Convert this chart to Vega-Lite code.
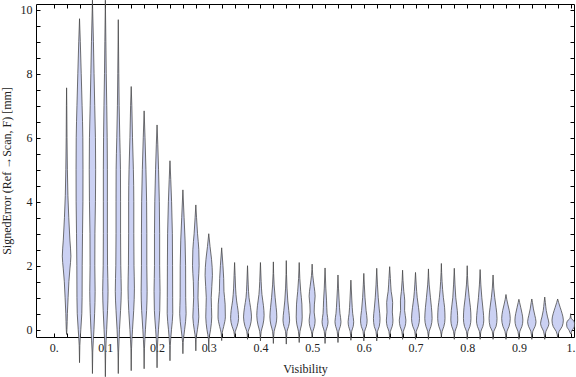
{
"$schema": "https://vega.github.io/schema/vega-lite/v6.json",
"width": 538, "height": 333,
"autosize": "none",
"padding": {"left": 36, "top": 4, "right": 2, "bottom": 40},
"background": "white",
"config": {"view": {"stroke": "#000", "strokeWidth": 1}, "font": "Liberation Serif",
  "axis": {"labelFont": "Liberation Serif", "titleFont": "Liberation Serif", "labelFontSize": 12, "titleFontSize": 12, "labelColor": "#222", "titleColor": "#222", "titleFontWeight": "normal", "domain": false, "grid": false, "tickColor": "#000", "labelOverlap": false, "labelFlush": false}},
"datasets": {"vio": [
{"v":0.025,"e":-0.15,"lo":0.025,"hi":0.025},{"v":0.025,"e":0,"lo":0.0244,"hi":0.0256},{"v":0.025,"e":0.5,"lo":0.0235,"hi":0.0265},{"v":0.025,"e":1,"lo":0.0221,"hi":0.0279},{"v":0.025,"e":1.5,"lo":0.0206,"hi":0.0294},{"v":0.025,"e":1.9,"lo":0.0186,"hi":0.0314},{"v":0.025,"e":2.3,"lo":0.0167,"hi":0.0333},{"v":0.025,"e":2.8,"lo":0.0186,"hi":0.0314},{"v":0.025,"e":3.5,"lo":0.0208,"hi":0.0292},{"v":0.025,"e":4.2,"lo":0.0225,"hi":0.0275},{"v":0.025,"e":5,"lo":0.0235,"hi":0.0265},{"v":0.025,"e":6,"lo":0.0242,"hi":0.0258},{"v":0.025,"e":7,"lo":0.0246,"hi":0.0254},{"v":0.025,"e":7.56,"lo":0.025,"hi":0.025},
{"v":0.05,"e":-1.03,"lo":0.05,"hi":0.05},{"v":0.05,"e":-0.5,"lo":0.0494,"hi":0.0506},{"v":0.05,"e":0,"lo":0.0475,"hi":0.0525},{"v":0.05,"e":0.5,"lo":0.0456,"hi":0.0544},{"v":0.05,"e":1,"lo":0.045,"hi":0.055},{"v":0.05,"e":2,"lo":0.0448,"hi":0.0552},{"v":0.05,"e":3,"lo":0.0442,"hi":0.0558},{"v":0.05,"e":4,"lo":0.0434,"hi":0.0566},{"v":0.05,"e":5,"lo":0.0433,"hi":0.0567},{"v":0.05,"e":6,"lo":0.0436,"hi":0.0564},{"v":0.05,"e":7,"lo":0.045,"hi":0.055},{"v":0.05,"e":8,"lo":0.0467,"hi":0.0533},{"v":0.05,"e":9,"lo":0.0485,"hi":0.0515},{"v":0.05,"e":9.72,"lo":0.05,"hi":0.05},
{"v":0.075,"e":-1.37,"lo":0.075,"hi":0.075},{"v":0.075,"e":-0.7,"lo":0.0744,"hi":0.0756},{"v":0.075,"e":0,"lo":0.0721,"hi":0.0779},{"v":0.075,"e":0.5,"lo":0.0708,"hi":0.0792},{"v":0.075,"e":1.2,"lo":0.0698,"hi":0.0802},{"v":0.075,"e":2,"lo":0.0704,"hi":0.0796},{"v":0.075,"e":3,"lo":0.0702,"hi":0.0798},{"v":0.075,"e":4,"lo":0.0692,"hi":0.0808},{"v":0.075,"e":5,"lo":0.0688,"hi":0.0812},{"v":0.075,"e":6,"lo":0.0692,"hi":0.0808},{"v":0.075,"e":7,"lo":0.0706,"hi":0.0794},{"v":0.075,"e":8,"lo":0.0719,"hi":0.0781},{"v":0.075,"e":9,"lo":0.0731,"hi":0.0769},{"v":0.075,"e":10.3,"lo":0.075,"hi":0.075},
{"v":0.1,"e":-1.47,"lo":0.1,"hi":0.1},{"v":0.1,"e":-0.7,"lo":0.0994,"hi":0.1006},{"v":0.1,"e":0,"lo":0.0975,"hi":0.1025},{"v":0.1,"e":0.6,"lo":0.0958,"hi":0.1042},{"v":0.1,"e":1.2,"lo":0.0948,"hi":0.1052},{"v":0.1,"e":2,"lo":0.0958,"hi":0.1042},{"v":0.1,"e":3,"lo":0.0961,"hi":0.1039},{"v":0.1,"e":4,"lo":0.0961,"hi":0.1039},{"v":0.1,"e":5,"lo":0.0961,"hi":0.1039},{"v":0.1,"e":6,"lo":0.0965,"hi":0.1035},{"v":0.1,"e":7,"lo":0.0973,"hi":0.1027},{"v":0.1,"e":8,"lo":0.0983,"hi":0.1017},{"v":0.1,"e":9,"lo":0.099,"hi":0.101},{"v":0.1,"e":10.3,"lo":0.1,"hi":0.1},
{"v":0.125,"e":-1.37,"lo":0.125,"hi":0.125},{"v":0.125,"e":-0.7,"lo":0.1244,"hi":0.1256},{"v":0.125,"e":0,"lo":0.1227,"hi":0.1273},{"v":0.125,"e":0.6,"lo":0.1206,"hi":0.1294},{"v":0.125,"e":1.2,"lo":0.1192,"hi":0.1308},{"v":0.125,"e":2,"lo":0.1202,"hi":0.1298},{"v":0.125,"e":3,"lo":0.1206,"hi":0.1294},{"v":0.125,"e":4,"lo":0.1206,"hi":0.1294},{"v":0.125,"e":5,"lo":0.1208,"hi":0.1292},{"v":0.125,"e":6,"lo":0.1221,"hi":0.1279},{"v":0.125,"e":7,"lo":0.1233,"hi":0.1267},{"v":0.125,"e":8,"lo":0.124,"hi":0.126},{"v":0.125,"e":9.69,"lo":0.125,"hi":0.125},
{"v":0.15,"e":-1.28,"lo":0.15,"hi":0.15},{"v":0.15,"e":-0.6,"lo":0.1494,"hi":0.1506},{"v":0.15,"e":0,"lo":0.1475,"hi":0.1525},{"v":0.15,"e":0.6,"lo":0.1452,"hi":0.1548},{"v":0.15,"e":1.3,"lo":0.1438,"hi":0.1562},{"v":0.15,"e":2,"lo":0.1446,"hi":0.1554},{"v":0.15,"e":3,"lo":0.145,"hi":0.155},{"v":0.15,"e":4,"lo":0.145,"hi":0.155},{"v":0.15,"e":5,"lo":0.1458,"hi":0.1542},{"v":0.15,"e":6,"lo":0.1475,"hi":0.1525},{"v":0.15,"e":7,"lo":0.1488,"hi":0.1512},{"v":0.15,"e":7.6,"lo":0.15,"hi":0.15},
{"v":0.175,"e":-1.22,"lo":0.175,"hi":0.175},{"v":0.175,"e":-0.6,"lo":0.1744,"hi":0.1756},{"v":0.175,"e":0,"lo":0.1725,"hi":0.1775},{"v":0.175,"e":0.6,"lo":0.1702,"hi":0.1798},{"v":0.175,"e":1.2,"lo":0.1692,"hi":0.1808},{"v":0.175,"e":2,"lo":0.1698,"hi":0.1802},{"v":0.175,"e":3,"lo":0.1698,"hi":0.1802},{"v":0.175,"e":4,"lo":0.1702,"hi":0.1798},{"v":0.175,"e":5,"lo":0.1715,"hi":0.1785},{"v":0.175,"e":6,"lo":0.1733,"hi":0.1767},{"v":0.175,"e":6.84,"lo":0.175,"hi":0.175},
{"v":0.2,"e":-1.19,"lo":0.2,"hi":0.2},{"v":0.2,"e":-0.6,"lo":0.1994,"hi":0.2006},{"v":0.2,"e":0,"lo":0.1973,"hi":0.2027},{"v":0.2,"e":0.6,"lo":0.1948,"hi":0.2052},{"v":0.2,"e":1.2,"lo":0.1942,"hi":0.2058},{"v":0.2,"e":2,"lo":0.195,"hi":0.205},{"v":0.2,"e":3,"lo":0.195,"hi":0.205},{"v":0.2,"e":4,"lo":0.1956,"hi":0.2044},{"v":0.2,"e":5,"lo":0.1971,"hi":0.2029},{"v":0.2,"e":5.8,"lo":0.1986,"hi":0.2014},{"v":0.2,"e":6.4,"lo":0.2,"hi":0.2},
{"v":0.225,"e":-0.97,"lo":0.225,"hi":0.225},{"v":0.225,"e":-0.5,"lo":0.2244,"hi":0.2256},{"v":0.225,"e":0,"lo":0.2221,"hi":0.2279},{"v":0.225,"e":0.5,"lo":0.2196,"hi":0.2304},{"v":0.225,"e":1,"lo":0.2198,"hi":0.2302},{"v":0.225,"e":2,"lo":0.22,"hi":0.23},{"v":0.225,"e":3,"lo":0.2204,"hi":0.2296},{"v":0.225,"e":4,"lo":0.2219,"hi":0.2281},{"v":0.225,"e":4.7,"lo":0.2235,"hi":0.2265},{"v":0.225,"e":5.28,"lo":0.225,"hi":0.225},
{"v":0.25,"e":-0.75,"lo":0.25,"hi":0.25},{"v":0.25,"e":-0.4,"lo":0.2494,"hi":0.2506},{"v":0.25,"e":0,"lo":0.2467,"hi":0.2533},{"v":0.25,"e":0.5,"lo":0.2438,"hi":0.2562},{"v":0.25,"e":1,"lo":0.2446,"hi":0.2554},{"v":0.25,"e":2,"lo":0.2448,"hi":0.2552},{"v":0.25,"e":2.8,"lo":0.2458,"hi":0.2542},{"v":0.25,"e":3.5,"lo":0.2477,"hi":0.2523},{"v":0.25,"e":4.37,"lo":0.25,"hi":0.25},
{"v":0.275,"e":-0.66,"lo":0.275,"hi":0.275},{"v":0.275,"e":-0.3,"lo":0.2744,"hi":0.2756},{"v":0.275,"e":0,"lo":0.2719,"hi":0.2781},{"v":0.275,"e":0.4,"lo":0.2692,"hi":0.2808},{"v":0.275,"e":1,"lo":0.2708,"hi":0.2792},{"v":0.275,"e":1.5,"lo":0.2702,"hi":0.2798},{"v":0.275,"e":2,"lo":0.2686,"hi":0.2814},{"v":0.275,"e":2.5,"lo":0.2692,"hi":0.2808},{"v":0.275,"e":3,"lo":0.2717,"hi":0.2783},{"v":0.275,"e":3.5,"lo":0.2736,"hi":0.2764},{"v":0.275,"e":3.9,"lo":0.275,"hi":0.275},
{"v":0.3,"e":-0.66,"lo":0.3,"hi":0.3},{"v":0.3,"e":-0.3,"lo":0.2994,"hi":0.3006},{"v":0.3,"e":0,"lo":0.2965,"hi":0.3035},{"v":0.3,"e":0.4,"lo":0.2942,"hi":0.3058},{"v":0.3,"e":1,"lo":0.2952,"hi":0.3048},{"v":0.3,"e":1.7,"lo":0.2929,"hi":0.3071},{"v":0.3,"e":2.2,"lo":0.2946,"hi":0.3054},{"v":0.3,"e":2.6,"lo":0.2975,"hi":0.3025},{"v":0.3,"e":3.0,"lo":0.3,"hi":0.3},
{"v":0.325,"e":-0.34,"lo":0.325,"hi":0.325},{"v":0.325,"e":-0.1,"lo":0.324,"hi":0.326},{"v":0.325,"e":0.1,"lo":0.3211,"hi":0.3289},{"v":0.325,"e":0.4,"lo":0.3179,"hi":0.3321},{"v":0.325,"e":0.8,"lo":0.3183,"hi":0.3317},{"v":0.325,"e":1.2,"lo":0.3206,"hi":0.3294},{"v":0.325,"e":1.6,"lo":0.3211,"hi":0.3289},{"v":0.325,"e":2,"lo":0.3225,"hi":0.3275},{"v":0.325,"e":2.56,"lo":0.325,"hi":0.325},
{"v":0.35,"e":-0.25,"lo":0.35,"hi":0.35},{"v":0.35,"e":-0.05,"lo":0.3485,"hi":0.3515},{"v":0.35,"e":0.1,"lo":0.3452,"hi":0.3548},{"v":0.35,"e":0.35,"lo":0.3423,"hi":0.3577},{"v":0.35,"e":0.6,"lo":0.3433,"hi":0.3567},{"v":0.35,"e":0.9,"lo":0.3461,"hi":0.3539},{"v":0.35,"e":1.3,"lo":0.3481,"hi":0.3519},{"v":0.35,"e":1.7,"lo":0.349,"hi":0.351},{"v":0.35,"e":2.1,"lo":0.35,"hi":0.35},
{"v":0.375,"e":-0.3,"lo":0.375,"hi":0.375},{"v":0.375,"e":-0.05,"lo":0.3735,"hi":0.3765},{"v":0.375,"e":0.1,"lo":0.3702,"hi":0.3798},{"v":0.375,"e":0.4,"lo":0.3673,"hi":0.3827},{"v":0.375,"e":0.7,"lo":0.3692,"hi":0.3808},{"v":0.375,"e":1,"lo":0.3721,"hi":0.3779},{"v":0.375,"e":1.4,"lo":0.3736,"hi":0.3764},{"v":0.375,"e":2.0,"lo":0.375,"hi":0.375},
{"v":0.4,"e":-0.35,"lo":0.4,"hi":0.4},{"v":0.4,"e":-0.05,"lo":0.3985,"hi":0.4015},{"v":0.4,"e":0.15,"lo":0.3952,"hi":0.4048},{"v":0.4,"e":0.45,"lo":0.3929,"hi":0.4071},{"v":0.4,"e":0.75,"lo":0.3942,"hi":0.4058},{"v":0.4,"e":1.1,"lo":0.3971,"hi":0.4029},{"v":0.4,"e":1.5,"lo":0.3986,"hi":0.4014},{"v":0.4,"e":2.1,"lo":0.4,"hi":0.4},
{"v":0.425,"e":-0.43,"lo":0.425,"hi":0.425},{"v":0.425,"e":-0.05,"lo":0.4235,"hi":0.4265},{"v":0.425,"e":0.15,"lo":0.4202,"hi":0.4298},{"v":0.425,"e":0.4,"lo":0.4183,"hi":0.4317},{"v":0.425,"e":0.7,"lo":0.4196,"hi":0.4304},{"v":0.425,"e":1,"lo":0.4215,"hi":0.4285},{"v":0.425,"e":1.4,"lo":0.4235,"hi":0.4265},{"v":0.425,"e":2.12,"lo":0.425,"hi":0.425},
{"v":0.45,"e":-0.45,"lo":0.45,"hi":0.45},{"v":0.45,"e":-0.05,"lo":0.4485,"hi":0.4515},{"v":0.45,"e":0.1,"lo":0.4456,"hi":0.4544},{"v":0.45,"e":0.3,"lo":0.4436,"hi":0.4564},{"v":0.45,"e":0.6,"lo":0.4452,"hi":0.4548},{"v":0.45,"e":0.9,"lo":0.4471,"hi":0.4529},{"v":0.45,"e":1.3,"lo":0.4486,"hi":0.4514},{"v":0.45,"e":2.16,"lo":0.45,"hi":0.45},
{"v":0.475,"e":-0.4,"lo":0.475,"hi":0.475},{"v":0.475,"e":-0.05,"lo":0.4735,"hi":0.4765},{"v":0.475,"e":0.15,"lo":0.4706,"hi":0.4794},{"v":0.475,"e":0.4,"lo":0.4692,"hi":0.4808},{"v":0.475,"e":0.8,"lo":0.4698,"hi":0.4802},{"v":0.475,"e":1.2,"lo":0.4721,"hi":0.4779},{"v":0.475,"e":1.6,"lo":0.4738,"hi":0.4762},{"v":0.475,"e":2.1,"lo":0.475,"hi":0.475},
{"v":0.5,"e":-0.25,"lo":0.5,"hi":0.5},{"v":0.5,"e":-0.05,"lo":0.4985,"hi":0.5015},{"v":0.5,"e":0.1,"lo":0.4956,"hi":0.5044},{"v":0.5,"e":0.3,"lo":0.4942,"hi":0.5058},{"v":0.5,"e":0.55,"lo":0.4961,"hi":0.5039},{"v":0.5,"e":0.8,"lo":0.4956,"hi":0.5044},{"v":0.5,"e":1.05,"lo":0.4942,"hi":0.5058},{"v":0.5,"e":1.35,"lo":0.4961,"hi":0.5039},{"v":0.5,"e":1.7,"lo":0.4988,"hi":0.5012},{"v":0.5,"e":2.05,"lo":0.5,"hi":0.5},
{"v":0.525,"e":-0.43,"lo":0.525,"hi":0.525},{"v":0.525,"e":-0.05,"lo":0.5235,"hi":0.5265},{"v":0.525,"e":0.1,"lo":0.5206,"hi":0.5294},{"v":0.525,"e":0.25,"lo":0.5192,"hi":0.5308},{"v":0.525,"e":0.5,"lo":0.5211,"hi":0.5289},{"v":0.525,"e":0.9,"lo":0.5221,"hi":0.5279},{"v":0.525,"e":1.3,"lo":0.5235,"hi":0.5265},{"v":0.525,"e":1.93,"lo":0.525,"hi":0.525},
{"v":0.55,"e":-0.4,"lo":0.55,"hi":0.55},{"v":0.55,"e":-0.05,"lo":0.5485,"hi":0.5515},{"v":0.55,"e":0.1,"lo":0.5456,"hi":0.5544},{"v":0.55,"e":0.25,"lo":0.5442,"hi":0.5558},{"v":0.55,"e":0.5,"lo":0.5461,"hi":0.5539},{"v":0.55,"e":0.9,"lo":0.5477,"hi":0.5523},{"v":0.55,"e":1.3,"lo":0.549,"hi":0.551},{"v":0.55,"e":1.71,"lo":0.55,"hi":0.55},
{"v":0.575,"e":-0.33,"lo":0.575,"hi":0.575},{"v":0.575,"e":-0.05,"lo":0.5735,"hi":0.5765},{"v":0.575,"e":0.1,"lo":0.5706,"hi":0.5794},{"v":0.575,"e":0.25,"lo":0.5696,"hi":0.5804},{"v":0.575,"e":0.5,"lo":0.5715,"hi":0.5785},{"v":0.575,"e":0.9,"lo":0.5731,"hi":0.5769},{"v":0.575,"e":1.55,"lo":0.575,"hi":0.575},
{"v":0.6,"e":-0.35,"lo":0.6,"hi":0.6},{"v":0.6,"e":-0.05,"lo":0.5985,"hi":0.6015},{"v":0.6,"e":0.1,"lo":0.5952,"hi":0.6048},{"v":0.6,"e":0.3,"lo":0.5936,"hi":0.6064},{"v":0.6,"e":0.6,"lo":0.5956,"hi":0.6044},{"v":0.6,"e":1.0,"lo":0.5977,"hi":0.6023},{"v":0.6,"e":1.4,"lo":0.599,"hi":0.601},{"v":0.6,"e":1.76,"lo":0.6,"hi":0.6},
{"v":0.625,"e":-0.35,"lo":0.625,"hi":0.625},{"v":0.625,"e":-0.05,"lo":0.6235,"hi":0.6265},{"v":0.625,"e":0.1,"lo":0.6202,"hi":0.6298},{"v":0.625,"e":0.35,"lo":0.6186,"hi":0.6314},{"v":0.625,"e":0.65,"lo":0.6202,"hi":0.6298},{"v":0.625,"e":1.0,"lo":0.6221,"hi":0.6279},{"v":0.625,"e":1.4,"lo":0.6236,"hi":0.6264},{"v":0.625,"e":1.92,"lo":0.625,"hi":0.625},
{"v":0.65,"e":-0.3,"lo":0.65,"hi":0.65},{"v":0.65,"e":-0.05,"lo":0.6485,"hi":0.6515},{"v":0.65,"e":0.1,"lo":0.6452,"hi":0.6548},{"v":0.65,"e":0.3,"lo":0.6436,"hi":0.6564},{"v":0.65,"e":0.55,"lo":0.6448,"hi":0.6552},{"v":0.65,"e":0.85,"lo":0.6442,"hi":0.6558},{"v":0.65,"e":1.2,"lo":0.6471,"hi":0.6529},{"v":0.65,"e":1.6,"lo":0.6486,"hi":0.6514},{"v":0.65,"e":1.97,"lo":0.65,"hi":0.65},
{"v":0.675,"e":-0.3,"lo":0.675,"hi":0.675},{"v":0.675,"e":-0.05,"lo":0.6735,"hi":0.6765},{"v":0.675,"e":0.1,"lo":0.6702,"hi":0.6798},{"v":0.675,"e":0.3,"lo":0.6686,"hi":0.6814},{"v":0.675,"e":0.6,"lo":0.6711,"hi":0.6789},{"v":0.675,"e":0.9,"lo":0.6708,"hi":0.6792},{"v":0.675,"e":1.2,"lo":0.6727,"hi":0.6773},{"v":0.675,"e":1.86,"lo":0.675,"hi":0.675},
{"v":0.7,"e":-0.3,"lo":0.7,"hi":0.7},{"v":0.7,"e":-0.05,"lo":0.6985,"hi":0.7015},{"v":0.7,"e":0.1,"lo":0.6948,"hi":0.7052},{"v":0.7,"e":0.35,"lo":0.6923,"hi":0.7077},{"v":0.7,"e":0.7,"lo":0.6942,"hi":0.7058},{"v":0.7,"e":1.0,"lo":0.6967,"hi":0.7033},{"v":0.7,"e":1.4,"lo":0.6986,"hi":0.7014},{"v":0.7,"e":1.79,"lo":0.7,"hi":0.7},
{"v":0.725,"e":-0.3,"lo":0.725,"hi":0.725},{"v":0.725,"e":-0.05,"lo":0.7235,"hi":0.7265},{"v":0.725,"e":0.1,"lo":0.7202,"hi":0.7298},{"v":0.725,"e":0.35,"lo":0.7179,"hi":0.7321},{"v":0.725,"e":0.7,"lo":0.7192,"hi":0.7308},{"v":0.725,"e":1.0,"lo":0.7211,"hi":0.7289},{"v":0.725,"e":1.4,"lo":0.7235,"hi":0.7265},{"v":0.725,"e":1.9,"lo":0.725,"hi":0.725},
{"v":0.75,"e":-0.25,"lo":0.75,"hi":0.75},{"v":0.75,"e":-0.05,"lo":0.7485,"hi":0.7515},{"v":0.75,"e":0.1,"lo":0.7452,"hi":0.7548},{"v":0.75,"e":0.35,"lo":0.7429,"hi":0.7571},{"v":0.75,"e":0.7,"lo":0.7438,"hi":0.7562},{"v":0.75,"e":1.0,"lo":0.7461,"hi":0.7539},{"v":0.75,"e":1.5,"lo":0.7486,"hi":0.7514},{"v":0.75,"e":2.07,"lo":0.75,"hi":0.75},
{"v":0.775,"e":-0.3,"lo":0.775,"hi":0.775},{"v":0.775,"e":-0.05,"lo":0.7735,"hi":0.7765},{"v":0.775,"e":0.1,"lo":0.7702,"hi":0.7798},{"v":0.775,"e":0.3,"lo":0.7683,"hi":0.7817},{"v":0.775,"e":0.6,"lo":0.7692,"hi":0.7808},{"v":0.775,"e":1.0,"lo":0.7721,"hi":0.7779},{"v":0.775,"e":1.4,"lo":0.7736,"hi":0.7764},{"v":0.775,"e":1.92,"lo":0.775,"hi":0.775},
{"v":0.8,"e":-0.3,"lo":0.8,"hi":0.8},{"v":0.8,"e":-0.05,"lo":0.7985,"hi":0.8015},{"v":0.8,"e":0.1,"lo":0.7948,"hi":0.8052},{"v":0.8,"e":0.35,"lo":0.7927,"hi":0.8073},{"v":0.8,"e":0.7,"lo":0.7938,"hi":0.8062},{"v":0.8,"e":1.0,"lo":0.7961,"hi":0.8039},{"v":0.8,"e":1.4,"lo":0.7985,"hi":0.8015},{"v":0.8,"e":2.0,"lo":0.8,"hi":0.8},
{"v":0.825,"e":-0.3,"lo":0.825,"hi":0.825},{"v":0.825,"e":-0.05,"lo":0.8235,"hi":0.8265},{"v":0.825,"e":0.1,"lo":0.8198,"hi":0.8302},{"v":0.825,"e":0.3,"lo":0.8179,"hi":0.8321},{"v":0.825,"e":0.6,"lo":0.8192,"hi":0.8308},{"v":0.825,"e":1.0,"lo":0.8217,"hi":0.8283},{"v":0.825,"e":1.4,"lo":0.8236,"hi":0.8264},{"v":0.825,"e":1.88,"lo":0.825,"hi":0.825},
{"v":0.85,"e":-0.3,"lo":0.85,"hi":0.85},{"v":0.85,"e":-0.05,"lo":0.8485,"hi":0.8515},{"v":0.85,"e":0.1,"lo":0.8442,"hi":0.8558},{"v":0.85,"e":0.35,"lo":0.8423,"hi":0.8577},{"v":0.85,"e":0.7,"lo":0.8442,"hi":0.8558},{"v":0.85,"e":1.0,"lo":0.8467,"hi":0.8533},{"v":0.85,"e":1.3,"lo":0.8486,"hi":0.8514},{"v":0.85,"e":1.71,"lo":0.85,"hi":0.85},
{"v":0.875,"e":-0.3,"lo":0.875,"hi":0.875},{"v":0.875,"e":-0.05,"lo":0.8731,"hi":0.8769},{"v":0.875,"e":0.1,"lo":0.8692,"hi":0.8808},{"v":0.875,"e":0.35,"lo":0.8667,"hi":0.8833},{"v":0.875,"e":0.6,"lo":0.8686,"hi":0.8814},{"v":0.875,"e":0.8,"lo":0.8715,"hi":0.8785},{"v":0.875,"e":0.95,"lo":0.8735,"hi":0.8765},{"v":0.875,"e":1.1,"lo":0.875,"hi":0.875},
{"v":0.9,"e":-0.3,"lo":0.9,"hi":0.9},{"v":0.9,"e":-0.05,"lo":0.8981,"hi":0.9019},{"v":0.9,"e":0.1,"lo":0.8942,"hi":0.9058},{"v":0.9,"e":0.3,"lo":0.8923,"hi":0.9077},{"v":0.9,"e":0.5,"lo":0.8938,"hi":0.9062},{"v":0.9,"e":0.7,"lo":0.8965,"hi":0.9035},{"v":0.9,"e":0.85,"lo":0.8986,"hi":0.9014},{"v":0.9,"e":0.95,"lo":0.9,"hi":0.9},
{"v":0.925,"e":-0.3,"lo":0.925,"hi":0.925},{"v":0.925,"e":-0.05,"lo":0.9231,"hi":0.9269},{"v":0.925,"e":0.1,"lo":0.9188,"hi":0.9312},{"v":0.925,"e":0.25,"lo":0.9169,"hi":0.9331},{"v":0.925,"e":0.45,"lo":0.9192,"hi":0.9308},{"v":0.925,"e":0.65,"lo":0.9219,"hi":0.9281},{"v":0.925,"e":0.85,"lo":0.9238,"hi":0.9262},{"v":0.925,"e":0.96,"lo":0.925,"hi":0.925},
{"v":0.95,"e":-0.3,"lo":0.95,"hi":0.95},{"v":0.95,"e":-0.05,"lo":0.9477,"hi":0.9523},{"v":0.95,"e":0.1,"lo":0.9433,"hi":0.9567},{"v":0.95,"e":0.2,"lo":0.9419,"hi":0.9581},{"v":0.95,"e":0.4,"lo":0.9446,"hi":0.9554},{"v":0.95,"e":0.6,"lo":0.9471,"hi":0.9529},{"v":0.95,"e":0.85,"lo":0.9488,"hi":0.9512},{"v":0.95,"e":1.02,"lo":0.95,"hi":0.95},
{"v":0.975,"e":-0.25,"lo":0.975,"hi":0.975},{"v":0.975,"e":-0.05,"lo":0.9721,"hi":0.9779},{"v":0.975,"e":0.1,"lo":0.9663,"hi":0.9837},{"v":0.975,"e":0.3,"lo":0.964,"hi":0.986},{"v":0.975,"e":0.5,"lo":0.9663,"hi":0.9837},{"v":0.975,"e":0.7,"lo":0.9702,"hi":0.9798},{"v":0.975,"e":0.85,"lo":0.9731,"hi":0.9769},{"v":0.975,"e":0.96,"lo":0.975,"hi":0.975},
{"v":1.0,"e":-0.13,"lo":1.0,"hi":1.0},{"v":1.0,"e":-0.02,"lo":0.9971,"hi":1.0029},{"v":1.0,"e":0.1,"lo":0.9927,"hi":1.0073},{"v":1.0,"e":0.2,"lo":0.9923,"hi":1.0077},{"v":1.0,"e":0.3,"lo":0.9952,"hi":1.0048},{"v":1.0,"e":0.36,"lo":0.999,"hi":1.001},{"v":1.0,"e":0.5,"lo":1.0,"hi":1.0}
]},
"data": {"name": "vio"},
"layer": [
  {
    "mark": {"type": "area", "orient": "horizontal", "interpolate": "monotone", "fill": "#cbd1f3", "stroke": "#444", "strokeWidth": 0.9, "strokeOpacity": 0.85, "clip": false},
    "encoding": {
      "x": {"field": "lo", "type": "quantitative", "scale": {"domain": [-0.0342, 1.0066], "nice": false, "zero": false},
        "axis": {"orient": "bottom", "title": "Visibility", "labelFont": "Liberation Serif", "titleFont": "Liberation Serif", "values": [0,0.025,0.05,0.075,0.1,0.125,0.15,0.175,0.2,0.225,0.25,0.275,0.3,0.325,0.35,0.375,0.4,0.425,0.45,0.475,0.5,0.525,0.55,0.575,0.6,0.625,0.65,0.675,0.7,0.725,0.75,0.775,0.8,0.825,0.85,0.875,0.9,0.925,0.95,0.975,1],
          "labelExpr": "datum.value == 0 ? '0.' : datum.value == 1 ? '1.' : (abs(datum.value*10 - round(datum.value*10)) < 0.001 ? format(datum.value, '.1f') : '')",
          "tickSize": -4, "labelPadding": 9, "titlePadding": 10}},
      "x2": {"field": "hi"},
      "y": {"field": "e", "type": "quantitative", "scale": {"domain": [-0.228, 10.18], "nice": false, "zero": false},
        "axis": {"orient": "left", "title": "SignedError (Ref →Scan, F) [mm]", "labelFont": "Liberation Serif", "titleFont": "Liberation Serif", "values": [0,0.5,1,1.5,2,2.5,3,3.5,4,4.5,5,5.5,6,6.5,7,7.5,8,8.5,9,9.5,10],
          "labelExpr": "datum.value % 2 == 0 ? format(datum.value, 'd') : ''",
          "tickSize": -4, "labelPadding": 8, "titlePadding": 7}},
      "detail": {"field": "v", "type": "quantitative"}
    }
  },
  {
    "mark": {"type": "point", "opacity": 0},
    "encoding": {
      "x": {"field": "lo", "type": "quantitative", "axis": {"orient": "top", "title": null, "labels": false, "tickSize": -4, "values": [0,0.025,0.05,0.075,0.1,0.125,0.15,0.175,0.2,0.225,0.25,0.275,0.3,0.325,0.35,0.375,0.4,0.425,0.45,0.475,0.5,0.525,0.55,0.575,0.6,0.625,0.65,0.675,0.7,0.725,0.75,0.775,0.8,0.825,0.85,0.875,0.9,0.925,0.95,0.975,1]}},
      "y": {"field": "e", "type": "quantitative", "axis": {"orient": "right", "title": null, "labels": false, "tickSize": -4, "values": [0,0.5,1,1.5,2,2.5,3,3.5,4,4.5,5,5.5,6,6.5,7,7.5,8,8.5,9,9.5,10]}}
    }
  }
],
"resolve": {"axis": {"x": "independent", "y": "independent"}}
}
